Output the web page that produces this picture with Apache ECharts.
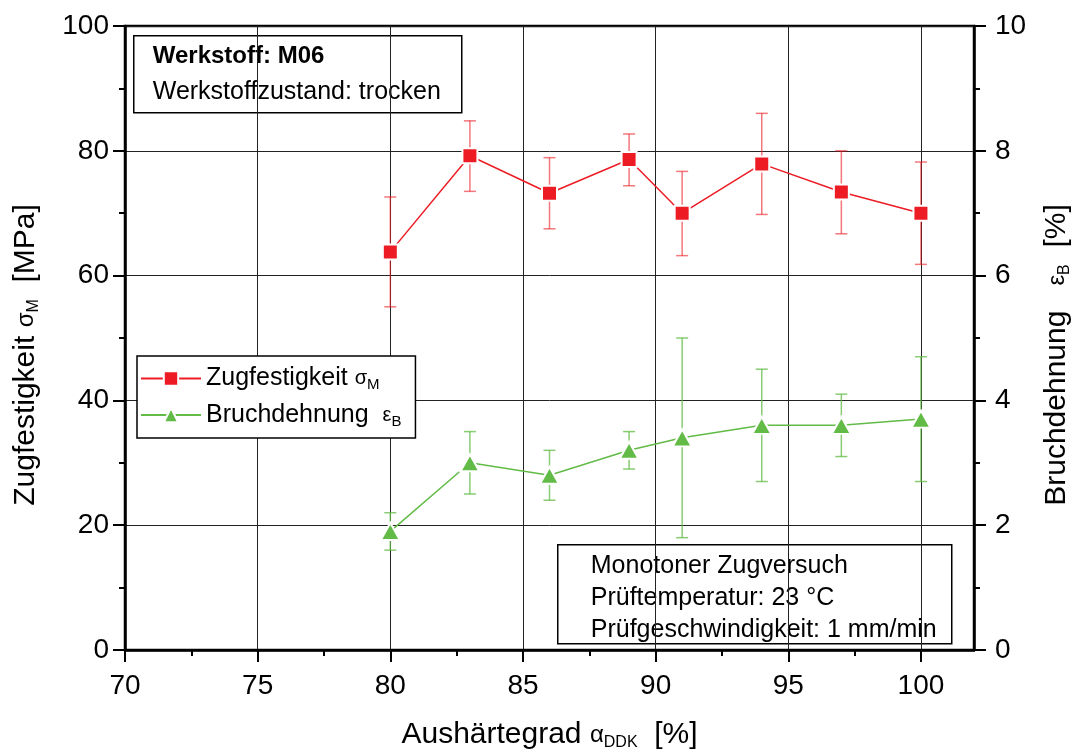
<!DOCTYPE html>
<html><head><meta charset="utf-8">
<script src="https://cdn.jsdelivr.net/npm/echarts@6/dist/echarts.min.js"></script>
<style>html,body{margin:0;padding:0;background:#fff}#c{width:1081px;height:756px}</style>
</head><body><div id="c"></div>
<script>
const xValues = [80, 83, 86, 89, 91, 94, 97, 100];
const strength = [63.8, 79.2, 73.2, 78.6, 70.0, 77.9, 73.4, 70.0];
const strengthLo = [55.0, 73.5, 67.5, 74.4, 63.2, 69.8, 66.7, 61.8];
const strengthHi = [72.6, 84.8, 78.9, 82.7, 76.7, 86.0, 80.0, 78.2];
const elong = [1.9, 3.0, 2.8, 3.2, 3.4, 3.6, 3.6, 3.7];
const elongLo = [1.6, 2.5, 2.4, 2.9, 1.8, 2.7, 3.1, 2.7];
const elongHi = [2.2, 3.5, 3.2, 3.5, 5.0, 4.5, 4.1, 4.7];
const xMajorTicks = [70, 75, 80, 85, 90, 95, 100];
const xMinorTicks = [72.5, 77.5, 82.5, 87.5, 92.5, 97.5];

const RED = '#ed1c24', RED_ERR = 'rgba(237,28,36,0.6)';
const GREEN = '#62bb46', GREEN_ERR = 'rgba(98,187,70,0.75)';
const FONT = "'Liberation Sans', Arial, sans-serif";

function errRender(color) {
  return function (params, api) {
    const x = api.value(0);
    const lo = api.coord([x, api.value(1)]);
    const hi = api.coord([x, api.value(2)]);
    const w = 6;
    return {
      type: 'group',
      children: [
        { type: 'line', shape: { x1: lo[0], y1: lo[1], x2: hi[0], y2: hi[1] }, style: { stroke: color, lineWidth: 1.5 } },
        { type: 'line', shape: { x1: lo[0] - w, y1: lo[1], x2: lo[0] + w, y2: lo[1] }, style: { stroke: color, lineWidth: 1.5 } },
        { type: 'line', shape: { x1: hi[0] - w, y1: hi[1], x2: hi[0] + w, y2: hi[1] }, style: { stroke: color, lineWidth: 1.5 } }
      ]
    };
  };
}

const richText = {
  a: { fontSize: 30, fontFamily: FONT, color: '#000' },
  e: { fontSize: 30, fontFamily: FONT, color: '#000', padding: [0, 34, 0, 0] },
  g: { fontSize: 24, fontFamily: FONT, color: '#000' },
  s: { fontSize: 16, fontFamily: FONT, color: '#000', padding: [16, 0, 0, 0] }
};
const legendRich = {
  a: { fontSize: 25, fontFamily: FONT, color: '#000' },
  g: { fontSize: 20, fontFamily: FONT, color: '#000' },
  s: { fontSize: 15, fontFamily: FONT, color: '#000', padding: [13, 0, 0, 0] }
};

const chart = echarts.init(document.getElementById('c'), null, { renderer: 'canvas' });
chart.setOption({
  animation: false,
  backgroundColor: '#fff',
  grid: { left: 125, right: 107, top: 26, bottom: 105, show: true, borderColor: '#000', borderWidth: 2.5, backgroundColor: 'transparent', containLabel: false },
  legend: {
    orient: 'vertical', left: 137, top: 356,
    backgroundColor: '#fff', borderColor: '#000', borderWidth: 1.5,
    padding: [10, 14, 9, 3], itemGap: 10, itemWidth: 60, itemHeight: 18,
    data: ['Zugfestigkeit', 'Bruchdehnung'],
    formatter: function (n) {
      return n === 'Zugfestigkeit' ? '{a|Zugfestigkeit }{g|σ}{s|M}' : '{a|Bruchdehnung  }{g|ε}{s|B}';
    },
    textStyle: { rich: legendRich, fontSize: 25, fontFamily: FONT }
  },
  xAxis: [{
    type: 'value', min: 70, max: 102, interval: 5,
    name: '{a|Aushärtegrad }{g|α}{s|DDK}{a|  [%]}', nameLocation: 'middle', nameGap: 69,
    nameTextStyle: { rich: richText },
    axisLine: { show: true, lineStyle: { color: '#000', width: 2.5 } },
    axisTick: { show: true, length: 12, lineStyle: { color: '#000', width: 2 }, customValues: xMajorTicks },
    axisLabel: { customValues: xMajorTicks, margin: 22, fontSize: 28, fontFamily: FONT, color: '#000' },
    splitLine: { show: true, lineStyle: { color: '#222', width: 1 } }
  }, {
    type: 'value', min: 70, max: 102, position: 'bottom',
    axisLine: { show: false },
    axisTick: { show: true, length: 6, lineStyle: { color: '#000', width: 2 }, customValues: xMinorTicks },
    axisLabel: { show: false, customValues: [] },
    splitLine: { show: false }
  }],
  yAxis: [{
    type: 'value', min: 0, max: 100, interval: 20, position: 'left',
    name: '{a|Zugfestigkeit }{g|σ}{s|M}{e|  [MPa]}', nameLocation: 'middle', nameGap: 83,
    nameTextStyle: { rich: richText },
    axisLine: { show: true, lineStyle: { color: '#000', width: 2.5 } },
    axisTick: { show: true, length: 12, lineStyle: { color: '#000', width: 2 } },
    minorTick: { show: true, splitNumber: 2, length: 6, lineStyle: { color: '#000', width: 2 } },
    axisLabel: { margin: 16, fontSize: 28, fontFamily: FONT, color: '#000' },
    splitLine: { show: true, lineStyle: { color: '#222', width: 1 } }
  }, {
    type: 'value', min: 0, max: 10, interval: 2, position: 'right',
    name: '{a|Bruchdehnung   }{g|ε}{s|B}{e|  [%]}', nameLocation: 'middle', nameGap: 67,
    nameTextStyle: { rich: richText },
    axisLine: { show: true, lineStyle: { color: '#000', width: 2.5 } },
    axisTick: { show: true, length: 12, lineStyle: { color: '#000', width: 2 } },
    minorTick: { show: true, splitNumber: 2, length: 6, lineStyle: { color: '#000', width: 2 } },
    axisLabel: { margin: 21, fontSize: 28, fontFamily: FONT, color: '#000' },
    splitLine: { show: false }
  }],
  series: [
    {
      type: 'custom', name: 'errR', yAxisIndex: 0, z: 2,
      renderItem: errRender(RED_ERR),
      data: xValues.map((x, i) => [x, strengthLo[i], strengthHi[i]]),
      encode: { x: 0, y: [1, 2] }
    },
    {
      type: 'custom', name: 'errG', yAxisIndex: 1, z: 2,
      renderItem: errRender(GREEN_ERR),
      data: xValues.map((x, i) => [x, elongLo[i], elongHi[i]]),
      encode: { x: 0, y: [1, 2] }
    },
    {
      type: 'line', name: 'Zugfestigkeit', yAxisIndex: 0, z: 3,
      data: xValues.map((x, i) => [x, strength[i]]),
      symbol: 'rect', symbolSize: 15,
      lineStyle: { color: RED, width: 1.5 },
      itemStyle: { color: RED, borderColor: '#fff', borderWidth: 2 }
    },
    {
      type: 'line', name: 'Bruchdehnung', yAxisIndex: 1, z: 3,
      data: xValues.map((x, i) => [x, elong[i]]),
      symbol: 'triangle', symbolSize: [19, 17],
      lineStyle: { color: GREEN, width: 1.5 },
      itemStyle: { color: GREEN, borderColor: '#fff', borderWidth: 2 }
    }
  ],
  graphic: [
    {
      type: 'group', left: 133, top: 35, z: 10,
      children: [
        { type: 'rect', shape: { x: 0, y: 0, width: 328, height: 77 }, style: { fill: '#fff', stroke: '#000', lineWidth: 1.5 } },
        { type: 'text', x: 19, y: 21, style: { text: 'Werkstoff: M06', font: 'bold 24px ' + FONT, fill: '#000', verticalAlign: 'middle' } },
        { type: 'text', x: 19, y: 56, style: { text: 'Werkstoffzustand: trocken', font: '25px ' + FONT, fill: '#000', verticalAlign: 'middle' } }
      ]
    },
    {
      type: 'group', left: 557, top: 544, z: 10,
      children: [
        { type: 'rect', shape: { x: 0, y: 0, width: 394, height: 99 }, style: { fill: '#fff', stroke: '#000', lineWidth: 1.5 } },
        { type: 'text', x: 33, y: 21, style: { text: 'Monotoner Zugversuch', font: '25px ' + FONT, fill: '#000', verticalAlign: 'middle' } },
        { type: 'text', x: 33, y: 53, style: { text: 'Prüftemperatur: 23 °C', font: '25px ' + FONT, fill: '#000', verticalAlign: 'middle' } },
        { type: 'text', x: 33, y: 85, style: { text: 'Prüfgeschwindigkeit: 1 mm/min', font: '25px ' + FONT, fill: '#000', verticalAlign: 'middle' } }
      ]
    }
  ]
});
</script></body></html>
